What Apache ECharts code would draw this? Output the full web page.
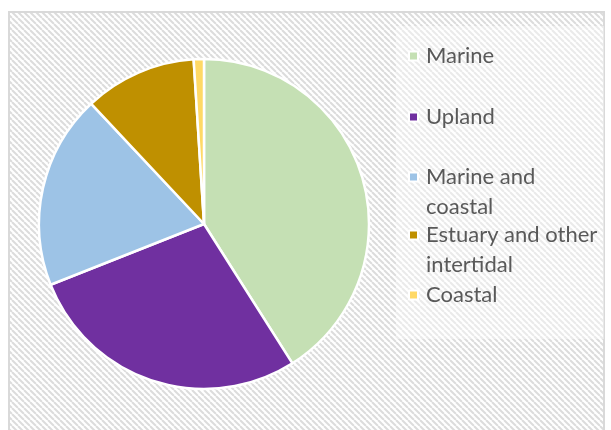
<!DOCTYPE html>
<html>
<head>
<meta charset="utf-8">
<script src="https://cdn.jsdelivr.net/npm/echarts@6/dist/echarts.min.js"></script>
<style>
  html, body { margin: 0; padding: 0; background: #fff; }
  #main { width: 611px; height: 430px; }
</style>
</head>
<body>
<div id="main"></div>
<script>
// habitat shares (percent)
var categories = ['Marine', 'Upland', 'Marine and coastal', 'Estuary and other intertidal', 'Coastal'];
var values = [41, 28, 19, 11, 1];
var colors = ['#c5e0b4', '#7030a0', '#9dc3e6', '#bf9000', '#ffd966'];

// legend label line breaks as in the original
var wrapped = {
    'Marine and coastal': 'Marine and\ncoastal',
    'Estuary and other intertidal': 'Estuary and other\nintertidal'
};

// diagonal hatch tile for the chart area
function hatch() {
    var c = document.createElement('canvas');
    c.width = 6; c.height = 6;
    var ctx = c.getContext('2d');
    ctx.fillStyle = '#ffffff';
    ctx.fillRect(0, 0, 6, 6);
    ctx.strokeStyle = '#dcdcdc';
    ctx.lineWidth = 2;
    [-6, 0, 6].forEach(function (k) {
        ctx.beginPath();
        ctx.moveTo(k, 0);
        ctx.lineTo(k + 6, 6);
        ctx.stroke();
    });
    return c;
}

var myChart = echarts.init(document.getElementById('main'));

// one legend per entry so the uneven spacing can be kept;
// wrapped entries get a blank first line so the marker sits on the first text line
var legendCenters = [56, 117, 177, 235, 295];
var legends = categories.map(function (name, i) {
    var twoLines = !!wrapped[name];
    return {
        data: [name],
        orient: 'vertical',
        left: 408,
        top: legendCenters[i] - (twoLines ? 45 : 15),
        padding: 0,
        icon: 'rect',
        itemWidth: 9,
        itemHeight: 9,
        selectedMode: false,
        formatter: function (n) {
            return wrapped[n] ? '\n' + wrapped[n] : n;
        },
        textStyle: {
            fontFamily: 'Lato',
            fontSize: 22,
            color: '#595959',
            lineHeight: 30,
            verticalAlign: twoLines ? 'top' : 'middle',
            padding: [0, 0, 0, 3]
        }
    };
});

option = {
    animation: false,
    color: colors,
    graphic: [
        {
            type: 'rect',
            z: -10,
            shape: { x: 9, y: 12, width: 595, height: 440 },
            style: {
                fill: { image: hatch(), repeat: 'repeat' },
                stroke: '#d9d9d9',
                lineWidth: 2
            }
        },
        {
            type: 'rect',
            z: -9,
            shape: { x: 396, y: 26, width: 208, height: 313 },
            style: { fill: 'rgba(255,255,255,0.4)' }
        }
    ],
    legend: legends,
    series: [
        {
            name: 'Habitat',
            type: 'pie',
            center: [204, 224],
            radius: 165,
            startAngle: 90,
            clockwise: true,
            label: { show: false },
            labelLine: { show: false },
            itemStyle: {
                borderColor: '#ffffff',
                borderWidth: 2.5
            },
            data: categories.map(function (c, i) {
                return { name: c, value: values[i] };
            })
        }
    ]
};

myChart.setOption(option);
</script>
</body>
</html>
